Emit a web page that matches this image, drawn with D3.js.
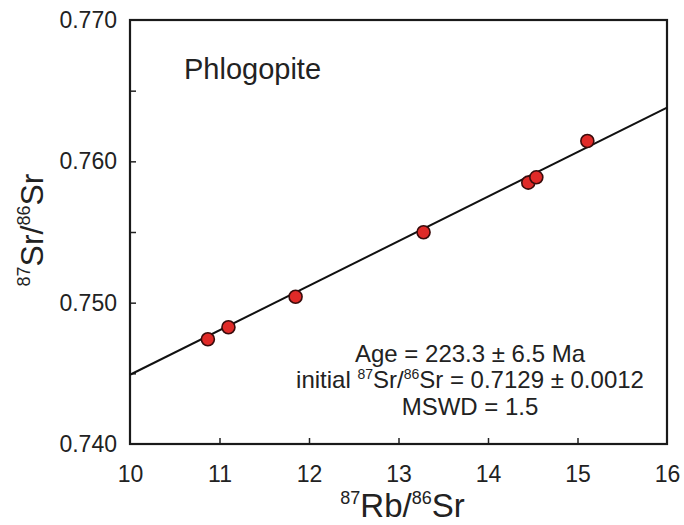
<!DOCTYPE html>
<html>
<head>
<meta charset="utf-8">
<script src="https://cdn.jsdelivr.net/npm/d3@7"></script>
<style>
  body { margin: 0; background: #fff; }
  svg text { font-family: "Liberation Sans", Arial, sans-serif; fill: #222; }
</style>
</head>
<body>
<figure id="isochron" style="margin:0"></figure>
<script>
var rbSr = [10.87, 11.10, 11.85, 13.28, 14.45, 14.54, 15.11];
var srSr = [0.74741, 0.74826, 0.75042, 0.75498, 0.75849, 0.75887, 0.76144];

// isochron line end points
var fitX = [10, 16];
var fitY = [0.7449, 0.7638];

var xTicks = [10, 11, 12, 13, 14, 15, 16];
var yTicks = [0.740, 0.750, 0.760, 0.770];
var yMinor = [0.745, 0.755, 0.765];

var dimensions = {
  width: 684,
  height: 525,
  margin: { top: 20, right: 17, bottom: 81, left: 130 }
};
dimensions.boundedWidth = dimensions.width - dimensions.margin.left - dimensions.margin.right;
dimensions.boundedHeight = dimensions.height - dimensions.margin.top - dimensions.margin.bottom;

var svg = d3.select("figure#isochron")
  .append("svg")
  .attr("width", dimensions.width)
  .attr("height", dimensions.height);

var chart = svg.append("g")
  .attr("transform", `translate(${dimensions.margin.left},${dimensions.margin.top})`);

var xScale = d3.scaleLinear().domain([10, 16]).range([0, dimensions.boundedWidth]);
var yScale = d3.scaleLinear().domain([0.740, 0.770]).range([dimensions.boundedHeight, 0]);

// x axis: labels below, short ticks pointing up into the plot
var xAxis = chart.append("g")
  .attr("transform", `translate(0,${dimensions.boundedHeight})`)
  .call(d3.axisBottom(xScale)
    .tickValues(xTicks)
    .tickFormat(d3.format("d"))
    .tickSizeInner(-6)
    .tickSizeOuter(0)
    .tickPadding(22));
xAxis.select(".domain").remove();
xAxis.selectAll("line").attr("stroke", "#222").attr("stroke-width", 1.5)
  .filter(d => d === 10 || d === 16).remove();
xAxis.selectAll("text").style("font-size", "23px").attr("fill", "#222");

var yAxis = chart.append("g")
  .call(d3.axisLeft(yScale)
    .tickValues(yTicks)
    .tickFormat(d3.format(".3f"))
    .tickSizeInner(-6)
    .tickSizeOuter(0)
    .tickPadding(13));
yAxis.select(".domain").remove();
yAxis.selectAll("line").attr("stroke", "#222").attr("stroke-width", 1.5)
  .filter(d => d === 0.740 || d === 0.770).remove();
yAxis.selectAll("text").style("font-size", "23px").attr("fill", "#222");

// minor ticks on the y axis
chart.append("g")
  .call(d3.axisLeft(yScale).tickValues(yMinor).tickFormat("").tickSizeInner(-6).tickSizeOuter(0))
  .call(g => g.select(".domain").remove())
  .selectAll("line").attr("stroke", "#222").attr("stroke-width", 1.5);

// frame
chart.append("rect")
  .attr("x", 0).attr("y", 0)
  .attr("width", dimensions.boundedWidth)
  .attr("height", dimensions.boundedHeight)
  .attr("fill", "none")
  .attr("stroke", "#1a1a1a")
  .attr("stroke-width", 2.2);

// isochron
chart.append("line")
  .attr("x1", xScale(fitX[0])).attr("y1", yScale(fitY[0]))
  .attr("x2", xScale(fitX[1])).attr("y2", yScale(fitY[1]))
  .attr("stroke", "#111")
  .attr("stroke-width", 2);

chart.selectAll("circle")
  .data(rbSr)
  .enter()
  .append("circle")
  .attr("cx", d => xScale(d))
  .attr("cy", (d, i) => yScale(srSr[i]))
  .attr("r", 6.5)
  .attr("fill", "#e02a28")
  .attr("stroke", "#3a0c0c")
  .attr("stroke-width", 1.6);

// labels
chart.append("text")
  .attr("x", 54).attr("y", 59)
  .style("font-size", "29px")
  .text("Phlogopite");

var note = chart.append("g").attr("text-anchor", "middle").style("font-size", "24px");
note.append("text").attr("x", 340).attr("y", 342).text("Age = 223.3 \u00b1 6.5 Ma");
var ini = note.append("text").attr("x", 340).attr("y", 368);
ini.append("tspan").text("initial ");
ini.append("tspan").attr("dy", -9).style("font-size", "14px").text("87");
ini.append("tspan").attr("dy", 9).text("Sr/");
ini.append("tspan").attr("dy", -9).style("font-size", "14px").text("86");
ini.append("tspan").attr("dy", 9).text("Sr = 0.7129 \u00b1 0.0012");
note.append("text").attr("x", 340).attr("y", 395).text("MSWD = 1.5");

// axis titles
var xt = svg.append("text")
  .attr("text-anchor", "middle")
  .attr("x", dimensions.margin.left + dimensions.boundedWidth / 2 + 4)
  .attr("y", 517)
  .style("font-size", "33px");
xt.append("tspan").attr("dy", -13).style("font-size", "18px").text("87");
xt.append("tspan").attr("dy", 13).text("Rb/");
xt.append("tspan").attr("dy", -13).style("font-size", "18px").text("86");
xt.append("tspan").attr("dy", 13).text("Sr");

var yt = svg.append("text")
  .attr("text-anchor", "middle")
  .attr("transform", `translate(43,${dimensions.margin.top + dimensions.boundedHeight / 2 - 2}) rotate(-90)`)
  .style("font-size", "32px");
yt.append("tspan").attr("dy", -13).style("font-size", "18px").text("87");
yt.append("tspan").attr("dy", 13).text("Sr/");
yt.append("tspan").attr("dy", -13).style("font-size", "18px").text("86");
yt.append("tspan").attr("dy", 13).text("Sr");
</script>
</body>
</html>
